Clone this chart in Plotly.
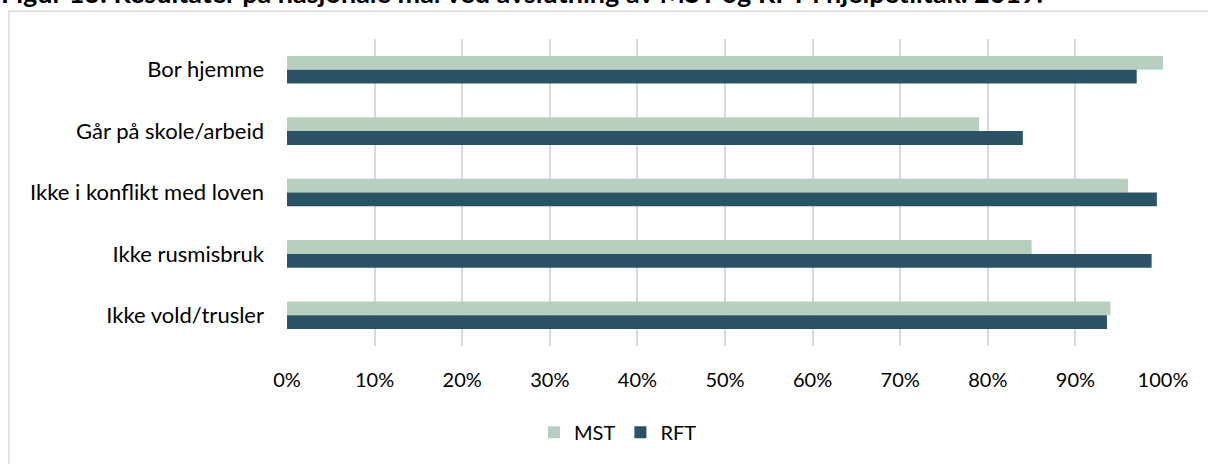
import plotly.graph_objects as go

categories = ["Bor hjemme", "Går på skole/arbeid", "Ikke i konflikt med loven", "Ikke rusmisbruk", "Ikke vold/trusler"]
mst = [1.00, 0.79, 0.96, 0.85, 0.94]
rft = [0.97, 0.84, 0.993, 0.987, 0.936]
series_names = ["MST", "RFT"]
title_text = "Figur 13: Resultater på nasjonale mål ved avslutning av MST og RFT i hjelpetiltak. 2019."

W, H = 1208, 464
L, R, T, B = 287, 1163, 39, 349

def px_x(p):
    return (p - L) / (R - L)

def px_y(p):
    return (B - p) / (B - T)

FONT = "Lato"

fig = go.Figure()
fig.add_trace(go.Bar(y=categories, x=mst, name=series_names[0], orientation="h",
                     marker=dict(color="#b8cfbf", line=dict(width=0))))
fig.add_trace(go.Bar(y=categories, x=rft, name=series_names[1], orientation="h",
                     marker=dict(color="#2a5466", line=dict(width=0))))

fig.update_layout(
    width=W, height=H,
    margin=dict(l=L, r=W - R, t=T, b=H - B),
    paper_bgcolor="white", plot_bgcolor="white",
    barmode="group", bargap=0.55, bargroupgap=0,
    font=dict(family=FONT, color="#000000", size=20),
    legend=dict(orientation="h", x=px_x(618), xanchor="center", y=px_y(436), yanchor="middle",
                font=dict(size=20, family=FONT), traceorder="normal", itemwidth=30),
    showlegend=True,
)
fig.update_xaxes(range=[0, 1], dtick=0.1, tick0=0, tickformat=".0%", showgrid=True,
                 gridcolor="#d9d9d9", gridwidth=1.5, zeroline=False, showline=False,
                 ticks="", ticklabelstandoff=20, tickfont=dict(size=20, family=FONT))
fig.update_yaxes(autorange="reversed", showgrid=False, zeroline=False, showline=False,
                 ticks="", ticklabelstandoff=22, tickfont=dict(size=22, family=FONT))

# chart border
fig.add_shape(type="rect", xref="paper", yref="paper",
              x0=px_x(9), x1=px_x(1220), y0=px_y(480), y1=px_y(11),
              line=dict(color="#d9d9d9", width=1.5), fillcolor="rgba(0,0,0,0)", layer="below")

fig.add_annotation(text="<b>" + title_text + "</b>", xref="paper", yref="paper",
                   x=px_x(-1), xanchor="left", y=px_y(11), yanchor="bottom",
                   showarrow=False, font=dict(size=27, family=FONT, color="#000000"))

fig.write_html("out.html", config={"displayModeBar": False},
               post_script="document.body.style.margin='0';document.body.style.overflow='hidden';")
